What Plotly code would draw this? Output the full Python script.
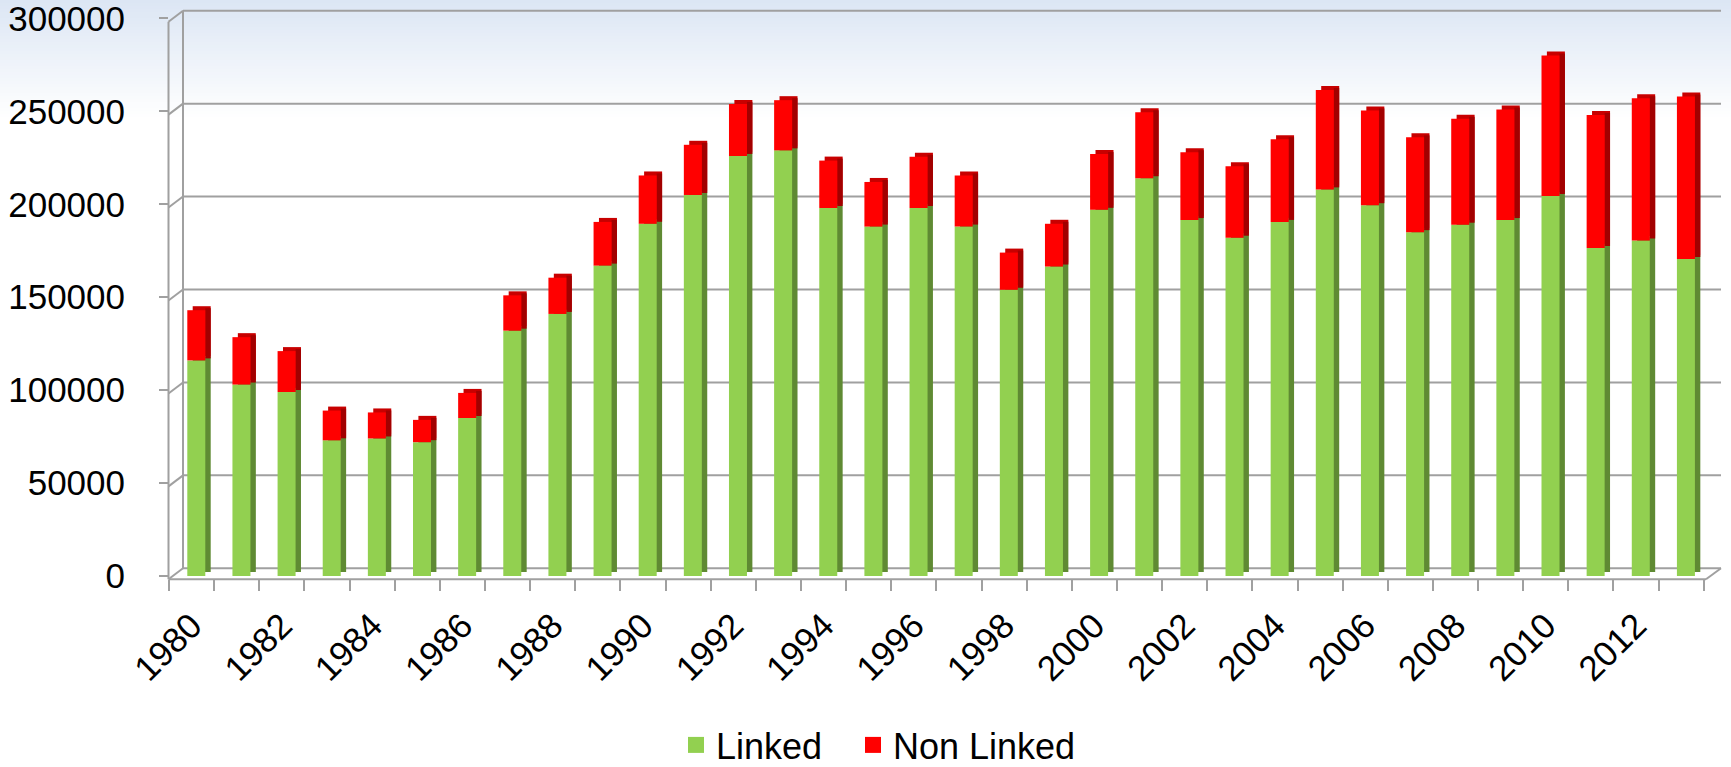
import plotly.graph_objects as go

# ---------------- data ----------------
years = list(range(1980, 2014))
linked = [116000, 103000, 99000, 73000, 74000, 72000, 85000, 132000, 141000, 167000,
          189500, 205000, 226000, 229000, 198000, 188000, 198000, 188000, 154000, 166500,
          197000, 214000, 191500, 182000, 190500, 208000, 199500, 185000, 189000, 191500,
          204500, 176500, 180500, 170500]
non_linked = [27000, 25500, 22000, 16000, 14000, 12000, 13500, 19000, 19500, 23500,
              26000, 27000, 28000, 27000, 25500, 24000, 27500, 27500, 20000, 23000,
              30000, 35500, 36500, 38500, 44500, 53500, 51000, 51000, 57000, 59500,
              75500, 71500, 76500, 87500]
y_ticks = [0, 50000, 100000, 150000, 200000, 250000, 300000]
x_label_idx = list(range(0, len(years), 2))
x_label_text = [str(years[i]) for i in x_label_idx]

# ---------------- geometry (pixels) ----------------
FIG_W, FIG_H = 1731, 767
L, R, T, B = 168, 1721, 4, 579
W, H = R - L, B - T
PX_PER_UNIT = 557.6 / 300000.0
BACK_ZERO = 568.3      # back wall zero line
FRONT_ZERO = 576.0     # bar front-face bottom
TICK_ZERO = 579.3      # front axis zero
CAT = 45.14            # category spacing
FRONT_B0 = 169.0       # first front category boundary
BACK_X = 183.0         # back wall left edge
FRONT_X = 168.5
FLOOR_RIGHT = 1706.0

def px_x(px):
    return (px - L) / W

def px_y(py):
    return (B - py) / H

y_back_range = [(BACK_ZERO - B) / PX_PER_UNIT, (BACK_ZERO - T) / PX_PER_UNIT]
y_front_range = [(FRONT_ZERO - B) / PX_PER_UNIT, (FRONT_ZERO - T) / PX_PER_UNIT]
x_front_range = [(L - FRONT_B0) / CAT - 0.5, (R - FRONT_B0) / CAT - 0.5]

n = len(years)
idx = list(range(n))
bar_w = 18.0 / CAT
bar_off = (187.3 - (FRONT_B0 + CAT / 2)) / CAT
dx_u = 5.4 / CAT
dy_u = 4.0 / PX_PER_UNIT

GREEN = "#92d050"
GREEN_DARK = "#5f8a33"
RED = "#ff0000"
RED_TOP = "#c80000"
RED_DARK = "#a20000"
GRID = "#a0a0a0"
FONT = "Liberation Sans, Arial, sans-serif"

fig = go.Figure()

common = dict(xaxis="x2", yaxis="y2", showlegend=False, hoverinfo="skip")
# depth (side/top) layers
fig.add_trace(go.Bar(x=idx, y=linked, base=[dy_u] * n, offset=bar_off + dx_u, width=bar_w,
                     marker=dict(color=GREEN_DARK, line=dict(width=0)), **common))
fig.add_trace(go.Bar(x=idx, y=non_linked, base=[g + dy_u for g in linked], offset=bar_off + dx_u,
                     width=bar_w, marker=dict(color=RED_TOP, line=dict(width=0)), **common))
fig.add_trace(go.Bar(x=idx, y=non_linked, base=[g + dy_u * 0.5 for g in linked],
                     offset=bar_off + bar_w, width=dx_u,
                     marker=dict(color=RED_DARK, line=dict(width=0)), **common))
# front faces
fig.add_trace(go.Bar(x=idx, y=linked, base=[0] * n, offset=bar_off, width=bar_w,
                     marker=dict(color=GREEN, line=dict(width=0)), **common))
fig.add_trace(go.Bar(x=idx, y=non_linked, base=linked, offset=bar_off, width=bar_w,
                     marker=dict(color=RED, line=dict(width=0)), **common))

# legend entries
for name, col, lw in [("Linked", GREEN, 132), ("Non Linked", RED, None)]:
    kw = dict(legendwidth=lw) if lw else {}
    fig.add_trace(go.Scatter(x=[None], y=[None], mode="markers", name=name,
                             marker=dict(symbol="square", size=18, color=col),
                             xaxis="x2", yaxis="y2", **kw))

shapes = []
# background gradient at top
top_c = (220, 230, 244)
bands = 40
band_h = 3.0
for i in range(bands):
    t = i / (bands - 1)
    c = tuple(round(top_c[k] + (255 - top_c[k]) * t) for k in range(3))
    y0 = i * band_h
    shapes.append(dict(type="rect", xref="paper", yref="paper", layer="below",
                       x0=px_x(0), x1=px_x(FIG_W), y0=px_y(y0 + band_h + 0.5), y1=px_y(y0),
                       fillcolor="rgb(%d,%d,%d)" % c, line=dict(width=0)))

# back wall gridlines and diagonal connectors
for v in y_ticks:
    yb = BACK_ZERO - v * PX_PER_UNIT
    yf = TICK_ZERO - v * PX_PER_UNIT
    shapes.append(dict(type="line", xref="paper", yref="y", layer="below",
                       x0=px_x(BACK_X), x1=px_x(R), y0=v, y1=v,
                       line=dict(color=GRID, width=2)))
    shapes.append(dict(type="line", xref="paper", yref="paper", layer="below",
                       x0=px_x(FRONT_X), x1=px_x(BACK_X), y0=px_y(yf), y1=px_y(yb),
                       line=dict(color=GRID, width=2)))
# walls and floor
top_b = BACK_ZERO - 300000 * PX_PER_UNIT
top_f = TICK_ZERO - 300000 * PX_PER_UNIT
shapes.append(dict(type="line", xref="paper", yref="paper", layer="below",
                   x0=px_x(BACK_X), x1=px_x(BACK_X), y0=px_y(BACK_ZERO), y1=px_y(top_b),
                   line=dict(color=GRID, width=2)))
shapes.append(dict(type="line", xref="paper", yref="paper", layer="below",
                   x0=px_x(FRONT_X), x1=px_x(FRONT_X), y0=px_y(TICK_ZERO), y1=px_y(top_f),
                   line=dict(color=GRID, width=2)))
shapes.append(dict(type="line", xref="paper", yref="paper", layer="below",
                   x0=px_x(FRONT_X), x1=px_x(FLOOR_RIGHT), y0=px_y(TICK_ZERO), y1=px_y(TICK_ZERO),
                   line=dict(color=GRID, width=2)))
shapes.append(dict(type="line", xref="paper", yref="paper", layer="below",
                   x0=px_x(FLOOR_RIGHT), x1=px_x(R), y0=px_y(TICK_ZERO), y1=px_y(BACK_ZERO),
                   line=dict(color=GRID, width=2)))

fig.update_layout(
    width=FIG_W, height=FIG_H,
    margin=dict(l=L, r=FIG_W - R, t=T, b=FIG_H - B, pad=0, autoexpand=False),
    paper_bgcolor="white", plot_bgcolor="rgba(0,0,0,0)",
    font=dict(family=FONT, size=35, color="black"),
    barmode="overlay",
    shapes=shapes,
    xaxis=dict(range=[0, 1], visible=False, fixedrange=True),
    yaxis=dict(range=y_back_range, visible=False, fixedrange=True),
    xaxis2=dict(overlaying="x", anchor="y2", range=x_front_range,
                tickmode="array", tickvals=x_label_idx, ticktext=x_label_text,
                tickangle=-45, ticks="", showgrid=False, showline=False, zeroline=False,
                tickfont=dict(family=FONT, size=35, color="black"),
                ticklabelstandoff=18, ticklabeloverflow="allow", automargin=False,
                minor=dict(tickmode="array", tickvals=[k - 0.5 for k in range(n + 1)],
                           ticks="outside", ticklen=11, tickwidth=2, tickcolor=GRID,
                           showgrid=False)),
    yaxis2=dict(overlaying="y", anchor="free", position=0, side="left",
                range=y_front_range, tickmode="array", tickvals=y_ticks,
                ticktext=[str(v) for v in y_ticks], automargin=False,
                ticks="outside", ticklen=9, tickwidth=2, tickcolor=GRID,
                showgrid=False, zeroline=False, showline=False,
                tickfont=dict(family=FONT, size=35, color="black"),
                ticklabelstandoff=27, ticklabeloverflow="allow"),
    legend=dict(orientation="h", x=px_x(676), xanchor="left", y=px_y(715), yanchor="top",
                font=dict(family=FONT, size=36, color="black"),
                bgcolor="rgba(0,0,0,0)", itemsizing="trace"),
)

fig.write_html("out.html", config={"displayModeBar": False},
               post_script="document.body.style.margin='0';document.body.style.padding='0';"
                           "document.documentElement.style.overflow='hidden';")
